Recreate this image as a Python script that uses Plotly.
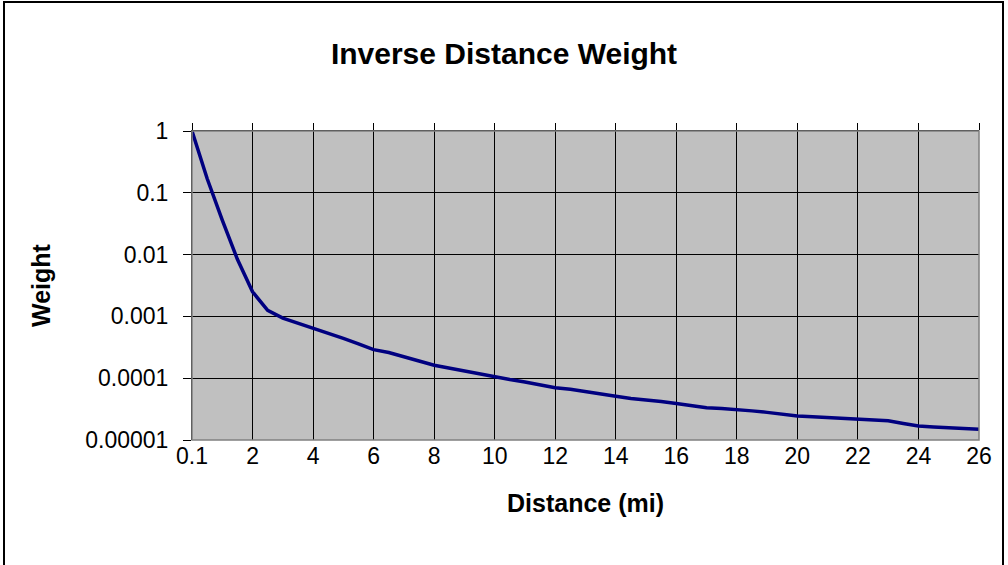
import plotly.graph_objects as go

# Distance categories (mi) and weights
distances = ["0.1", "0.5", "1", "1.5", "2", "2.5", "3", "3.5", "4", "4.5", "5", "5.5",
             "6", "6.5", "7", "7.5", "8", "8.5", "9", "9.5", "10", "10.5", "11", "11.5",
             "12", "12.5", "13", "13.5", "14", "14.5", "15", "15.5", "16", "16.5", "17",
             "17.5", "18", "18.5", "19", "19.5", "20", "20.5", "21", "21.5", "22", "22.5",
             "23", "23.5", "24", "24.5", "25", "25.5", "26"]
weights = [1, 0.17, 0.036, 0.0084, 0.0025, 0.00125, 0.00094, 0.00078, 0.00066, 0.00053,
           0.00044, 0.00036, 0.00029, 0.00026, 0.000225, 0.00019, 0.000162, 0.000145,
           0.00013, 0.000116, 0.000104, 0.000095, 0.000087, 0.000078, 0.00007, 0.000066,
           0.00006, 0.000056, 0.000051, 0.000047, 0.000045, 0.000042, 0.000039, 0.000036,
           0.0000333, 0.0000323, 0.0000313, 0.0000296, 0.000028, 0.0000262, 0.0000244,
           0.0000237, 0.000023, 0.0000223, 0.0000216, 0.000021, 0.0000204, 0.0000185,
           0.0000168, 0.0000163, 0.0000158, 0.0000153, 0.0000149]

x_tick_labels = ["0.1", "2", "4", "6", "8", "10", "12", "14", "16", "18", "20", "22", "24", "26"]
y_tick_values = [0.00001, 0.0001, 0.001, 0.01, 0.1, 1]
y_tick_labels = ["0.00001", "0.0001", "0.001", "0.01", "0.1", "1"]

FONT = "Liberation Sans, Arial, sans-serif"

fig = go.Figure()
fig.add_trace(go.Scatter(x=distances, y=weights, mode="lines",
                         line=dict(color="#000080", width=3.5), showlegend=False))
fig.add_trace(go.Scatter(x=distances, y=weights, mode="lines", xaxis="x2",
                         line=dict(color="rgba(0,0,0,0)", width=0), showlegend=False,
                         hoverinfo="skip"))

n = len(distances)
fig.update_layout(
    width=1008, height=565,
    margin=dict(l=192, r=29, t=131, b=125),
    paper_bgcolor="white", plot_bgcolor="#C0C0C0",
    font=dict(family=FONT, color="black", size=23),
    title=dict(text="<b>Inverse Distance Weight</b>", x=0.5, xanchor="center",
               y=0.905, yanchor="middle", font=dict(size=30, family=FONT)),
    xaxis=dict(type="category", categoryorder="array", categoryarray=distances,
               range=[0, n - 1], tickvals=x_tick_labels, ticktext=x_tick_labels,
               showgrid=True, gridcolor="#000000", gridwidth=1,
               ticks="", showline=False, zeroline=False,
               ticklabelstandoff=0,
               tickfont=dict(size=23),
               title=dict(text="<b>Distance (mi)</b>", font=dict(size=25), standoff=26)),
    xaxis2=dict(type="category", categoryorder="array", categoryarray=distances,
                overlaying="x", side="top", range=[0, n - 1], tickvals=x_tick_labels,
                showticklabels=False, showgrid=False, ticks="outside", ticklen=7,
                tickcolor="black", showline=True, linecolor="black", linewidth=1),
    yaxis=dict(type="log", range=[-5, 0], tickvals=y_tick_values, ticktext=y_tick_labels,
               showgrid=True, gridcolor="#000000", gridwidth=1,
               ticks="outside", ticklen=8, tickcolor="black",
               showline=True, linecolor="black", linewidth=1,
               ticklabelstandoff=10, tickfont=dict(size=23),
               title=dict(text="<b>Weight</b>", font=dict(size=25), standoff=27)),
    shapes=[
        dict(type="rect", xref="paper", yref="paper", x0=0, x1=1, y0=0, y1=1,
             line=dict(color="#808080", width=1.5), layer="above"),
        dict(type="rect", xref="paper", yref="paper",
             x0=(4 - 192) / 787, x1=(1003 - 192) / 787,
             y0=(440 - 575) / 309, y1=(440 - 2) / 309,
             line=dict(color="black", width=2), layer="above"),
    ],
)

fig.write_html("out.html", config={"displayModeBar": False},
               post_script="document.body.style.margin='0';")
